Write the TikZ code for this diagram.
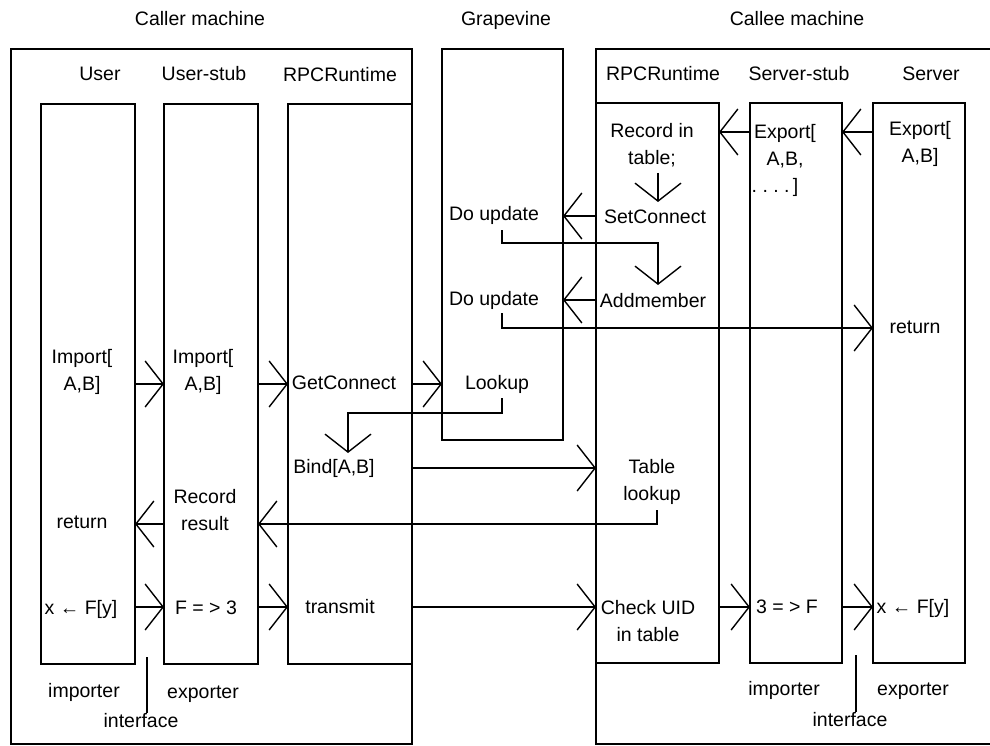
\documentclass[tikz,border=0pt]{standalone}
\usepackage{fontspec}
\setmainfont{Liberation Sans}
\usetikzlibrary{arrows.meta}
\newcommand\mylbl{\fontsize{19.5}{27}\selectfont}
\tikzset{
  col/.style={draw, line width=1.7pt, inner sep=0pt, outer sep=0pt, anchor=north west, minimum height=560},
  outer/.style={line width=2.9pt, line join=miter},
  txt/.style={inner sep=0pt, font=\mylbl, align=center, anchor=base},
  arr/.style={-{Straight Barb[length=18pt,width=46pt]}, line width=1.4pt},
  conn/.style={line width=1.4pt},
}
\begin{document}
\begin{tikzpicture}[x=1pt,y=-1pt]
\useasboundingbox (0,0) rectangle (990,746);
% outer machine boxes
\draw[outer] (412,104) -- (412,49) -- (11,49) -- (11,744) -- (412,744) -- (412,664);
\draw[outer] (1000,49) -- (596,49) -- (596,744) -- (1000,744);
% columns
\node[col, minimum width=94] (ucol) at (41,104) {};
\node[col, minimum width=94] (uscol) at (164,104) {};
\node[col, minimum width=124] (rcol) at (288,104) {};
\node[col, minimum width=123] (crcol) at (596,103) {};
\node[col, minimum width=92] (sscol) at (750,103) {};
\node[col, minimum width=92] (svcol) at (873,103) {};
\node[draw, line width=2.2pt, inner sep=0pt, outer sep=0pt, anchor=north west, minimum width=121, minimum height=391] (gv) at (442,49) {};
% titles
\node[txt] (tcaller) at (200,26) {Caller machine};
\node[txt] (tgv) at (506,26) {Grapevine};
\node[txt] (tcallee) at (797,26) {Callee machine};
\node[txt] (huser) at (100,81) {User};
\node[txt] (hustub) at (204,81) {User-stub};
\node[txt] (hrpc) at (340,82) {RPCRuntime};
\node[txt] (hcrpc) at (663,81) {RPCRuntime};
\node[txt] (hsstub) at (799,81) {Server-stub};
\node[txt] (hserver) at (931,81) {Server};
% callee texts
\node[txt] (rec) at (652,165) {Record in\\table;};
\node[txt] (setc) at (655,223) {SetConnect};
\node[txt] (addm) at (653,307) {Addmember};
\node[txt] (exps) at (785,193) {Export[\\A,B,\\\hspace*{-20pt}.\ .\ .\ .\,]};
\node[txt] (expv) at (920,163) {Export[\\A,B]};
\node[txt] (sret) at (915,333) {return};
% grapevine texts
\node[txt] (upd1) at (494,221) {Do update};
\node[txt] (upd2) at (494,305) {Do update};
\node[txt] (look) at (497,389) {Lookup};
% caller texts
\node[txt] (imp1) at (82,390) {Import[\\A,B]};
\node[txt] (imp2) at (203,390) {Import[\\A,B]};
\node[txt] (getc) at (344,389) {GetConnect};
\node[txt] (bind) at (334,473) {Bind[A,B]};
\node[txt] (tlook) at (652,500) {Table\\lookup};
\node[txt] (recres) at (205,530) {Record\\result};
\node[txt] (uret) at (82,528) {return};
\node[txt] (call1) at (81,614) {x ← F[y]};
\node[txt] (fto3) at (206,614) {F = > 3};
\node[txt] (trans) at (340,613) {transmit};
\node[txt] (chk) at (648,641) {Check UID\\in table};
\node[txt] (threef) at (787,613) {3 = > F};
\node[txt] (call2) at (913,613) {x ← F[y]};
% bottom labels
\node[txt] (imp1l) at (84,697) {importer};
\node[txt] (exp1l) at (203,698) {exporter};
\node[txt] (if1) at (141,727) {interface};
\node[txt] (imp2l) at (784,695) {importer};
\node[txt] (exp2l) at (913,695) {exporter};
\node[txt] (if2) at (850,726) {interface};
\draw[conn] (147,657) -- (if1.north -| 147,0);
\draw[conn] (856,655) -- (if2.north -| 856,0);
% export arrows
\draw[arr] (sscol.west |- 0,132) -- (crcol.east |- 0,132);
\draw[arr] (svcol.west |- 0,132) -- (sscol.east |- 0,132);
\draw[arr] (658,173) -- (658,202);
\draw[arr] (crcol.west |- 0,216) -- (gv.east |- 0,216);
\draw[arr] (502,230) -- (502,243) -- (658,243) -- (658,285);
\draw[arr] (crcol.west |- 0,300) -- (gv.east |- 0,300);
\draw[arr] (502,313) -- (502,328) -- (svcol.west |- 0,328);
% import arrows
\draw[arr] (ucol.east |- 0,384) -- (uscol.west |- 0,384);
\draw[arr] (uscol.east |- 0,384) -- (rcol.west |- 0,384);
\draw[arr] (rcol.east |- 0,384) -- (gv.west |- 0,384);
\draw[arr] (502,398) -- (502,413) -- (348,413) -- (348,453);
\draw[arr] (rcol.east |- 0,468) -- (crcol.west |- 0,468);
\draw[arr] (657,510) -- (657,524) -- (uscol.east |- 0,524);
\draw[arr] (uscol.west |- 0,524) -- (ucol.east |- 0,524);
% call arrows
\draw[arr] (ucol.east |- 0,607) -- (uscol.west |- 0,607);
\draw[arr] (uscol.east |- 0,607) -- (rcol.west |- 0,607);
\draw[arr] (rcol.east |- 0,607) -- (crcol.west |- 0,607);
\draw[arr] (crcol.east |- 0,607) -- (sscol.west |- 0,607);
\draw[arr] (sscol.east |- 0,607) -- (svcol.west |- 0,607);
\end{tikzpicture}
\end{document}
